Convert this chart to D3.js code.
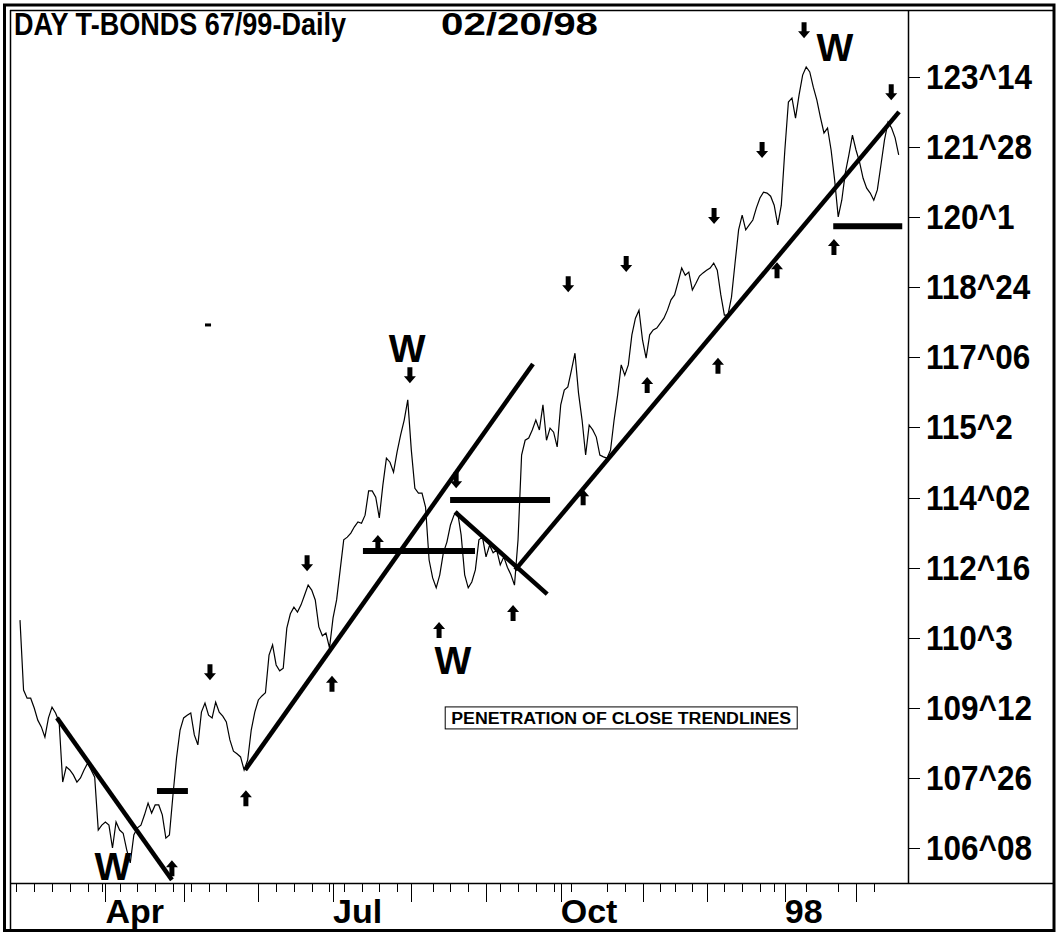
<!DOCTYPE html>
<html><head><meta charset="utf-8">
<script src="https://cdn.jsdelivr.net/npm/d3@7"></script>
<style>html,body{margin:0;padding:0;background:#fff;} svg{display:block;}</style>
</head><body>
<svg id="chart" width="1057" height="933"></svg>
<script>
// ---------- DATA ----------
const titleText = "DAY T-BONDS 67/99-Daily";
const titleDate = "02/20/98";

// daily closes, index = trading day (0 = late Feb 1997)
const closes = [
111.33,109.77,109.59,109.59,109.37,109.10,108.95,108.72,109.15,109.39,
109.26,109.06,107.72,108.06,107.99,107.88,107.72,107.81,107.99,108.14,
107.99,107.83,106.65,106.76,106.83,106.76,106.25,106.83,106.65,106.58,
106.21,105.92,106.54,106.70,106.76,106.99,107.25,107.03,107.21,107.21,
106.99,106.47,106.54,107.43,108.26,108.88,109.15,109.21,109.26,108.77,
108.55,109.28,109.48,109.21,109.15,109.50,109.28,109.19,109.06,108.66,
108.41,108.35,108.28,107.99,108.21,108.88,109.28,109.55,109.64,109.71,
110.55,110.78,110.33,110.20,110.26,111.15,111.47,111.62,111.51,111.67,
111.89,112.11,112.00,111.78,111.18,110.98,111.04,110.71,111.38,111.78,
112.45,113.12,113.18,113.27,113.41,113.52,113.49,113.67,114.21,114.21,
114.07,113.61,114.34,114.94,114.85,114.63,115.08,115.46,115.79,116.24,
115.12,114.27,114.16,114.16,113.85,112.67,112.27,112.05,112.34,112.83,
113.07,113.45,113.67,113.74,113.23,112.34,112.05,112.18,112.45,113.12,
113.18,112.74,113.00,112.83,112.89,112.56,112.74,112.51,112.34,112.11,
113.12,115.01,115.34,115.39,115.57,115.79,115.57,116.13,115.34,115.61,
115.52,115.19,116.13,116.46,116.53,116.90,117.28,116.39,115.79,115.01,
115.68,115.57,115.41,115.01,114.97,114.94,115.12,115.79,116.35,117.02,
116.79,117.02,117.69,118.06,118.24,117.57,117.17,117.69,117.80,117.84,
117.95,118.06,118.24,118.47,118.58,118.87,119.18,119.02,119.09,118.69,
118.84,119.00,119.07,119.13,119.18,119.29,119.13,118.58,118.13,118.13,
118.53,119.29,120.03,120.36,120.03,120.14,120.25,120.52,120.74,120.87,
120.85,120.78,120.58,120.14,120.58,121.81,122.88,122.97,122.52,123.04,
123.48,123.66,123.55,123.21,122.92,122.54,122.19,122.30,121.81,121.14,
120.32,120.69,121.30,121.70,122.14,121.81,121.54,121.18,120.96,120.85,
120.69,120.92,121.47,122.03,122.43,122.30,122.08,121.70
];

const yTickValues = [106.25,107.8125,109.375,110.9375,112.5,114.0625,115.625,117.1875,118.75,120.3125,121.875,123.4375];
const yTickLabels = ["106^08","107^26","109^12","110^3","112^16","114^02","115^2","117^06","118^24","120^1","121^28","123^14"];

const monthTickDays = [24,46,67,88,110,131,152,175,193,215,235];
const monthLabels   = ["Apr","","","Jul","","","Oct","","","98",""];
const weekTickDays  = [-1,4,9,14,19,23,28,33,38,43,48,53,58,67,72,77,82,87,91,96,101,106,116,121,126,135,140,145,150,155,165,170,175,180,184,189,193,198,203,208,212,221,230,240];

// trendlines: [[day, price],[day, price]]
const trendlines = [
  [[10.4,109.15],[42.7,105.54]],
  [[63.3,107.99],[144.2,117.04]],
  [[122.3,113.74],[148.2,111.91]],
  [[139.2,112.45],[247.1,122.66]]
];
// horizontal level bars: [fromDay, toDay, price]
const levelBars = [
  [38.5,47.2,107.52],
  [96.4,127.9,112.87],
  [120.9,149.0,114.01],
  [228.6,248.0,120.11]
];
const smallDash = [[52.0,53.7,117.91]];
// arrow markers [day, price]
const downArrows = [[53.4,110.17],[80.7,112.60],[109.6,116.79],[154.1,118.82],[170.4,119.27],[195.1,120.34],[208.6,121.81],[220.4,124.48],[244.9,123.10],[122.6,114.45]];
const upArrows = [[42.7,105.80],[63.5,107.36],[87.7,109.91],[100.6,113.05],[117.8,111.11],[138.6,111.49],[158.3,114.07],[176.3,116.57],[196.2,117.00],[212.8,119.13],[228.8,119.65]];
// wave labels [day, price]
const waveLabels = [[108.8,117.40],[121.7,110.44],[26.1,105.85],[229.1,124.10]];
const noteText = "PENETRATION OF CLOSE TRENDLINES";
const notePos = [169,109.15];

// ---------- CHART ----------
const W = 1057, H = 933;
const plot = {left:10, top:10, right:908, bottom:883};
const svg = d3.select("#chart");
const FONT = "'Liberation Sans', Arial, sans-serif";

const x = d3.scaleLinear().domain([0,235]).range([20,856]);
const y = d3.scaleLinear().domain([106.25,123.4375]).range([848,77]);

// frame
svg.append("rect").attr("x",0).attr("y",0).attr("width",W).attr("height",H).attr("fill","#fff");
svg.append("rect").attr("x",4.5).attr("y",5).attr("width",1049.5).attr("height",925.5)
  .attr("fill","none").attr("stroke","#000").attr("stroke-width",3);
svg.append("line").attr("x1",10.5).attr("x2",10.5).attr("y1",10).attr("y2",930).attr("stroke","#000").attr("stroke-width",1.5);
svg.append("line").attr("x1",10).attr("x2",1054).attr("y1",10.5).attr("y2",10.5).attr("stroke","#000").attr("stroke-width",1.5);
// axes lines
svg.append("line").attr("x1",plot.right+0.5).attr("x2",plot.right+0.5).attr("y1",10).attr("y2",plot.bottom).attr("stroke","#000").attr("stroke-width",1.5);
svg.append("line").attr("x1",10).attr("x2",1054).attr("y1",plot.bottom+0.5).attr("y2",plot.bottom+0.5).attr("stroke","#000").attr("stroke-width",1.5);

// y ticks and labels
const yAx = svg.append("g");
yTickValues.forEach((v,i)=>{
  const yy = Math.round(y(v))+0.5;
  yAx.append("line").attr("x1",plot.right).attr("x2",plot.right+12).attr("y1",yy).attr("y2",yy).attr("stroke","#000").attr("stroke-width",1);
  yAx.append("text").attr("transform",`translate(926,${y(v)+12}) scale(0.9,1)`)
    .attr("font-family",FONT).attr("font-weight","bold").attr("font-size",35).attr("fill","#000")
    .text(yTickLabels[i]);
});

// x ticks
const xAx = svg.append("g");
weekTickDays.forEach(d=>{
  const xx = Math.round(x(d))+0.5;
  xAx.append("line").attr("x1",xx).attr("x2",xx).attr("y1",plot.bottom).attr("y2",plot.bottom+9).attr("stroke","#000").attr("stroke-width",1);
});
monthTickDays.forEach((d,i)=>{
  const xx = Math.round(x(d))+0.5;
  xAx.append("line").attr("x1",xx).attr("x2",xx).attr("y1",plot.bottom).attr("y2",plot.bottom+19).attr("stroke","#000").attr("stroke-width",1);
  if (monthLabels[i]) {
    xAx.append("text").attr("x",x(d)).attr("y",923)
      .attr("font-family",FONT).attr("font-weight","bold").attr("font-size",34).attr("fill","#000")
      .text(monthLabels[i]);
  }
});

// title
svg.append("text").attr("x",14).attr("y",35).attr("font-family",FONT).attr("font-weight","bold")
  .attr("font-size",31).attr("textLength",332).attr("lengthAdjust","spacingAndGlyphs").text(titleText);
svg.append("text").attr("x",441).attr("y",35).attr("font-family",FONT).attr("font-weight","bold")
  .attr("font-size",31).attr("textLength",157).attr("lengthAdjust","spacingAndGlyphs").text(titleDate);

const g = svg.append("g");

// price line
g.append("path").datum(closes)
  .attr("d", d3.line().x((d,i)=>x(i)).y(d=>y(d)))
  .attr("fill","none").attr("stroke","#000").attr("stroke-width",1.2);

// trendlines
trendlines.forEach(t=>{
  g.append("line").attr("x1",x(t[0][0])).attr("y1",y(t[0][1])).attr("x2",x(t[1][0])).attr("y2",y(t[1][1]))
    .attr("stroke","#000").attr("stroke-width",4.5);
});
levelBars.forEach(b=>{
  g.append("line").attr("x1",x(b[0])).attr("x2",x(b[1])).attr("y1",y(b[2])).attr("y2",y(b[2]))
    .attr("stroke","#000").attr("stroke-width",6);
});
smallDash.forEach(b=>{
  g.append("line").attr("x1",x(b[0])).attr("x2",x(b[1])).attr("y1",y(b[2])).attr("y2",y(b[2]))
    .attr("stroke","#000").attr("stroke-width",3);
});

// arrows
const upPath = "M0,-8 L6,-1 L2.5,-1 L2.5,8 L-2.5,8 L-2.5,-1 L-6,-1 Z";
const downPath = "M0,8 L6,1 L2.5,1 L2.5,-8 L-2.5,-8 L-2.5,1 L-6,1 Z";
upArrows.forEach(a=>{
  g.append("path").attr("d",upPath).attr("transform",`translate(${x(a[0])},${y(a[1])})`).attr("fill","#000");
});
downArrows.forEach(a=>{
  g.append("path").attr("d",downPath).attr("transform",`translate(${x(a[0])},${y(a[1])})`).attr("fill","#000");
});

// W labels
waveLabels.forEach(w=>{
  g.append("text").attr("x",x(w[0])).attr("y",y(w[1])+0.358*39).attr("text-anchor","middle")
    .attr("font-family",FONT).attr("font-weight","bold").attr("font-size",39).attr("fill","#000").text("W");
});

// note box
const cx = x(notePos[0]), cy = y(notePos[1]);
g.append("rect").attr("x",cx-176).attr("y",cy-11).attr("width",352).attr("height",22)
  .attr("fill","#fff").attr("stroke","#000").attr("stroke-width",1);
g.append("text").attr("x",cx).attr("y",cy+0.358*16).attr("text-anchor","middle")
  .attr("font-family",FONT).attr("font-weight","bold").attr("font-size",16)
  .attr("textLength",340).attr("lengthAdjust","spacingAndGlyphs").text(noteText);
</script>
</body></html>
